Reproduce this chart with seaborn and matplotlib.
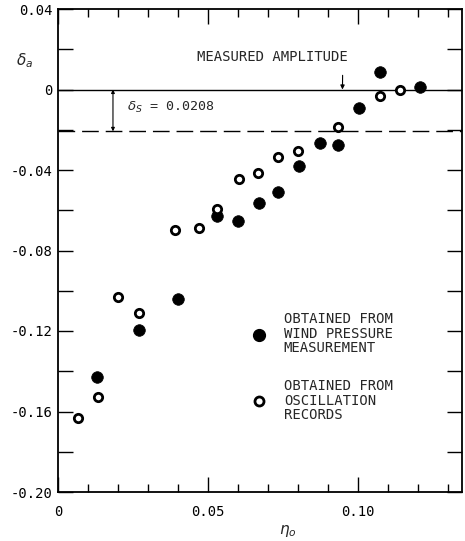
import matplotlib
matplotlib.use("Agg")
import matplotlib.pyplot as plt
from matplotlib.ticker import FixedLocator, FixedFormatter, MultipleLocator
from matplotlib.lines import Line2D
import seaborn as sns
import pandas as pd

# Wind pressure measurement (filled symbols)
eta_pressure = [0.0131, 0.0270, 0.0401, 0.0531, 0.0598, 0.0670, 0.0733,
                0.0801, 0.0872, 0.0933, 0.1003, 0.1072, 0.1206]
delta_pressure = [-0.1427, -0.1195, -0.1040, -0.0631, -0.0655, -0.0563, -0.0510,
                  -0.0382, -0.0268, -0.0277, -0.0090, 0.0086, 0.0013]

# Oscillation records (open symbols)
eta_oscillation = [0.0067, 0.0133, 0.0200, 0.0270, 0.0390, 0.0468, 0.0531,
                   0.0601, 0.0667, 0.0731, 0.0800, 0.0931, 0.1072, 0.1139]
delta_oscillation = [-0.1633, -0.1530, -0.1032, -0.1110, -0.0700, -0.0686, -0.0593,
                     -0.0444, -0.0415, -0.0334, -0.0308, -0.0186, -0.0033, -0.0003]

delta_s = 0.0208
measured_amplitude = 0.0

y_ticks = [0.04, 0.0, -0.04, -0.08, -0.12, -0.16, -0.20]
y_tick_labels = ["0.04", "0", "-0.04", "-0.08", "-0.12", "-0.16", "-0.20"]
x_ticks = [0.0, 0.05, 0.10]
x_tick_labels = ["0", "0.05", "0.10"]

label_pressure = "OBTAINED FROM\nWIND PRESSURE\nMEASUREMENT"
label_oscillation = "OBTAINED FROM\nOSCILLATION\nRECORDS"

sns.set_theme(style="ticks")
plt.rcParams["font.family"] = ["DejaVu Sans Mono", "DejaVu Sans"]
plt.rcParams["mathtext.fontset"] = "dejavusans"

df_p = pd.DataFrame({"eta": eta_pressure, "delta": delta_pressure})
df_o = pd.DataFrame({"eta": eta_oscillation, "delta": delta_oscillation})

fig = plt.figure(figsize=(4.65, 5.41), dpi=100)
ax = fig.add_axes([58 / 465, 49 / 541, 404 / 465, 483 / 541])

sns.scatterplot(data=df_p, x="eta", y="delta", ax=ax, marker="o", s=70,
                color="black", edgecolor="black", linewidth=0.5, zorder=4)
sns.scatterplot(data=df_o, x="eta", y="delta", ax=ax, marker="o", s=36,
                facecolor="white", edgecolor="black", linewidth=2.0, zorder=4)

ax.set_xlim(0, 0.1345)
ax.set_ylim(-0.20, 0.04)

# reference lines
ax.axhline(measured_amplitude, color="black", lw=1.0, zorder=2)
ax.axhline(-delta_s, color="black", lw=1.0, dashes=(12, 5), zorder=2)

# delta_s dimension arrow
ax.annotate("", xy=(0.0183, -delta_s), xytext=(0.0183, 0.0),
            arrowprops=dict(arrowstyle="<|-|>", color="black", lw=0.8,
                            mutation_scale=5, shrinkA=0, shrinkB=0))
ax.text(0.0230, -0.0089, r"$\delta_S$ = 0.0208", fontsize=9.5,
        ha="left", va="center")

# measured amplitude callout
ax.annotate("MEASURED AMPLITUDE", xy=(0.0947, 0.0), xytext=(0.0963, 0.0163),
            fontsize=10, ha="right", va="center",
            arrowprops=dict(arrowstyle="-|>", color="black", lw=0.8,
                            mutation_scale=6, shrinkA=6, shrinkB=0,
                            relpos=(0.97, 0.0)))

# ticks
ax.yaxis.set_major_locator(FixedLocator(y_ticks))
ax.yaxis.set_major_formatter(FixedFormatter(y_tick_labels))
ax.yaxis.set_minor_locator(MultipleLocator(0.02))
ax.xaxis.set_major_locator(FixedLocator(x_ticks))
ax.xaxis.set_major_formatter(FixedFormatter(x_tick_labels))
ax.xaxis.set_minor_locator(MultipleLocator(0.01))
ax.tick_params(axis="both", which="both", direction="in", top=True, right=True,
               color="black", width=1.0, labelsize=10, labelcolor="black")
ax.tick_params(axis="y", which="both", length=11, pad=4)
ax.tick_params(axis="x", which="major", length=11, pad=9)
ax.tick_params(axis="x", which="minor", length=6)

for sp in ax.spines.values():
    sp.set_linewidth(1.3)
    sp.set_color("black")

ax.set_xlabel(r"$\eta_o$", fontsize=11, va="center")
ax.xaxis.set_label_coords(0.569, -0.081)
ax.set_ylabel(r"$\delta_a$", fontsize=11, rotation=0, va="center", ha="center")
ax.yaxis.set_label_coords(-0.082, 0.894)

handles = [
    Line2D([], [], ls="none", marker="o", markersize=8.5,
           markerfacecolor="black", markeredgecolor="black"),
    Line2D([], [], ls="none", marker="o", markersize=6.5,
           markerfacecolor="white", markeredgecolor="black", markeredgewidth=2.0),
]
leg = ax.legend(handles, [label_pressure, label_oscillation], loc="upper left",
                bbox_to_anchor=(0.48, 0.372), frameon=False, fontsize=10,
                handlelength=1.0, handletextpad=1.3, labelspacing=1.7,
                borderpad=0, borderaxespad=0)
for t in leg.get_texts():
    t.set_linespacing(1.05)

fig.savefig("out.png", dpi=100, facecolor="white")
